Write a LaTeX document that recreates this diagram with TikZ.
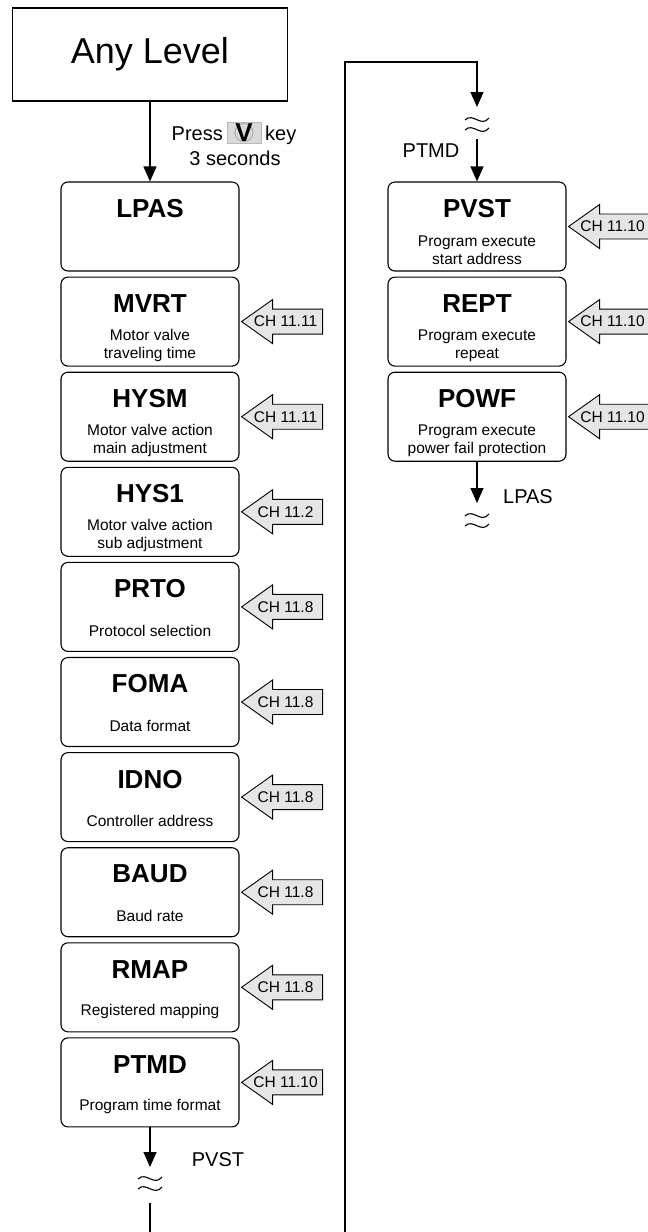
\documentclass[tikz,border=0pt]{standalone}
\usepackage{fontspec}
\setmainfont{Liberation Sans}
\usetikzlibrary{arrows.meta,calc}
\newcommand\mkbox[5]{%
  \node[stepbox] (#1) at (#2,#3+44.5) {};
  \node[ttl] (#1-t) at ($(#1.north)+(0,27)$) {#4};
  \node[subt] (#1-s) at ($(#1.north)+(0,69)$) {#5};
}
\newcommand\chref[2]{%
  \draw[charr] ($(#1.east)+(2,0)$) coordinate (#1-tip) -- ++(31,-22) -- ++(0,9.5) -- ++(50,0) -- ++(0,25) -- ++(-50,0) -- ++(0,9.5) -- cycle;
  \node[chtxt] (#1-ch) at ($(#1.east)+(46,0)$) {#2};
}
\newcommand\wavesym[2]{%
  \begin{scope}[shift={(#1,#2)}]
    \draw[wave] (-12,-4) .. controls (-4,-12) and (4,4) .. (12,-6);
    \draw[wave] (-12,6) .. controls (-4,-2) and (4,14) .. (12,4);
  \end{scope}
}
\begin{document}
\begin{tikzpicture}[x=1pt,y=-1pt,
  stepbox/.style={draw,line width=1.1pt,rounded corners=7pt,minimum width=178pt,minimum height=89pt,inner sep=0pt},
  ttl/.style={font=\fontsize{26}{30}\selectfont\bfseries,inner sep=0pt},
  subt/.style={font=\fontsize{15.5}{18}\selectfont,align=center,inner sep=0pt},
  lbl/.style={font=\fontsize{20}{24}\selectfont,inner sep=0pt},
  chtxt/.style={font=\fontsize{15.5}{18}\selectfont,inner sep=0pt},
  charr/.style={draw,fill=gray!20,line width=0.9pt,line join=miter},
  conn/.style={line width=1.2pt},
  arr/.style={conn,-{Triangle[length=15pt,width=13pt]}},
  wave/.style={line width=1.1pt}
]
\useasboundingbox (0,0) rectangle (648,1232);

% top box
\node[draw,line width=1.1pt,minimum width=275pt,minimum height=93pt,inner sep=0pt,
      font=\fontsize{36}{42}\selectfont] (any) at (150,54.5) {Any Level};

% left column
\node[stepbox] (lpas) at (150,182+44.5) {};
\node[ttl] (lpas-t) at ($(lpas.north)+(0,27)$) {LPAS};
\mkbox{mvrt}{150}{277.1}{MVRT}{Motor valve\\traveling time}
\mkbox{hysm}{150}{372.2}{HYSM}{Motor valve action\\main adjustment}
\mkbox{hys1}{150}{467.3}{HYS1}{Motor valve action\\sub adjustment}
\mkbox{prto}{150}{562.4}{PRTO}{Protocol selection}
\mkbox{foma}{150}{657.5}{FOMA}{Data format}
\mkbox{idno}{150}{752.6}{IDNO}{Controller address}
\mkbox{baud}{150}{847.7}{BAUD}{Baud rate}
\mkbox{rmap}{150}{942.8}{RMAP}{Registered mapping}
\mkbox{ptmd}{150}{1037.9}{PTMD}{Program time format}

% right column
\mkbox{pvst}{477}{182}{PVST}{Program execute\\start address}
\mkbox{rept}{477}{277.1}{REPT}{Program execute\\repeat}
\mkbox{powf}{477}{372.2}{POWF}{Program execute\\power fail protection}

% chapter arrows
\chref{mvrt}{CH 11.11}
\chref{hysm}{CH 11.11}
\chref{hys1}{CH 11.2}
\chref{prto}{CH 11.8}
\chref{foma}{CH 11.8}
\chref{idno}{CH 11.8}
\chref{baud}{CH 11.8}
\chref{rmap}{CH 11.8}
\chref{ptmd}{CH 11.10}
\chref{pvst}{CH 11.10}
\chref{rept}{CH 11.10}
\chref{powf}{CH 11.10}

% entry arrow with key label
\draw[arr] (any.south) -- (lpas.north);
\node[lbl,anchor=base east] (press) at (223,140) {Press};
\node[draw=gray!55,fill=gray!30,line width=0.8pt,minimum width=34pt,minimum height=21pt,inner sep=0pt] (key) at (244,132.5) {};
\draw[gray!65,line width=1pt] (key.center) circle (9);
\node[font=\fontsize{26}{26}\selectfont\bfseries,inner sep=0pt] (keyv) at (key.center) {V};
\node[lbl,anchor=base west] (keyw) at (265,140) {key};
\node[lbl,anchor=base] (secs) at (235,165) {3 seconds};

% left bottom continuation
\coordinate (w1a) at (150,1167);
\coordinate (w1b) at (150,1203);
\coordinate (botL) at (150,1232);
\draw[arr] (ptmd.south) -- (w1a);
\wavesym{150}{1183}
\draw[conn] (w1b) -- (botL);
\node[lbl,anchor=base] (lbl-pvst) at (218,1166) {PVST};

% right loop
\coordinate (botR) at (345,1232);
\coordinate (topR) at (345,62);
\coordinate (topM) at (477,62);
\coordinate (w2a) at (477,107);
\coordinate (w2b) at (477,139);
\draw[arr] (botR) -- (topR) -- (topM) -- (w2a);
\wavesym{477}{124}
\draw[arr] (w2b) -- (pvst.north);
\node[lbl,anchor=base] (lbl-ptmd) at (431,157) {PTMD};

% POWF exit
\coordinate (w3a) at (477,503);
\draw[arr] (powf.south) -- (w3a);
\wavesym{477}{520}
\node[lbl,anchor=base] (lbl-lpas) at (528,503) {LPAS};
\end{tikzpicture}
\end{document}
